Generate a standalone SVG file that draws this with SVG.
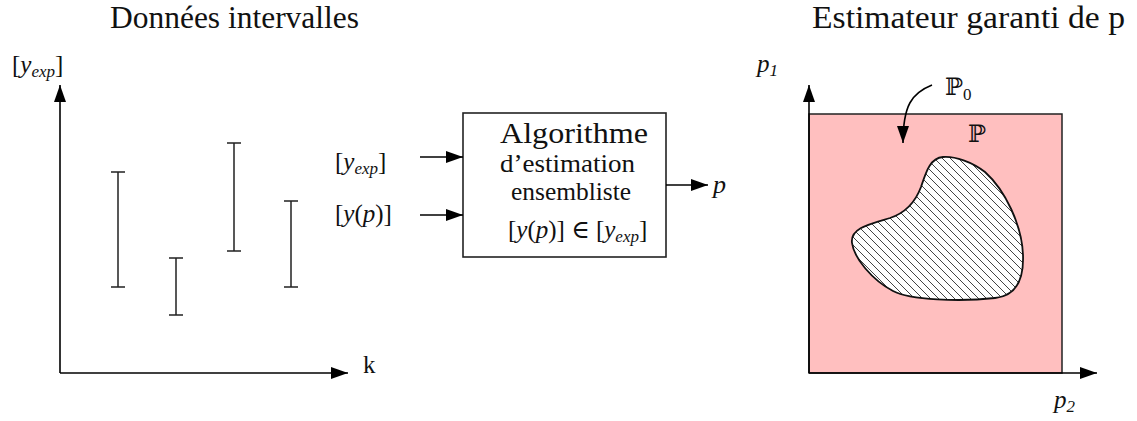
<svg xmlns="http://www.w3.org/2000/svg" width="1137" height="421" viewBox="0 0 1137 421">
<style>
.t{font-family:'Liberation Serif','DejaVu Serif','Times New Roman',serif;fill:#111}
.m{font-family:'Liberation Serif','DejaVu Serif','Times New Roman',serif;font-style:italic;fill:#111}
.bb{font-family:'DejaVu Serif','DejaVu Sans',serif;fill:#111}
.ax{stroke:#000;stroke-width:1.6;fill:none}
.bar{stroke:#222;stroke-width:1.5;fill:none}
</style>
<defs>
<marker id="ah" markerUnits="userSpaceOnUse" markerWidth="18" markerHeight="13" refX="17" refY="6" orient="auto">
<path d="M0,0 L17,6 L0,12 z" fill="#000"/>
</marker>
<pattern id="hatch" patternUnits="userSpaceOnUse" width="8" height="8">
<rect width="8" height="8" fill="#fff"/>
<path d="M-2,-2 L10,10 M-2,6 L2,10 M6,-2 L10,2" stroke="#444" stroke-width="1"/>
</pattern>
</defs>

<g id="titles">
<text class="t" font-family="Liberation Serif, DejaVu Serif, serif" x="110" y="28" font-size="32" textLength="249" lengthAdjust="spacingAndGlyphs">Données intervalles</text>
<text class="t" font-family="Liberation Serif, DejaVu Serif, serif" x="812" y="28" font-size="31" textLength="313" lengthAdjust="spacingAndGlyphs">Estimateur garanti de p</text>
</g>

<g id="left-plot">
<text class="t" x="12" y="73" font-size="25">[<tspan class="m">y</tspan><tspan class="m" font-size="17" dy="4">exp</tspan><tspan dy="-4">]</tspan></text>
<text class="t" x="363" y="373" font-size="25">k</text>
<g id="intervals">
<path class="bar" d="M118,172 V287 M111,172 H125 M111,287 H125"/>
<path class="bar" d="M176,258 V315 M169,258 H183 M169,315 H183"/>
<path class="bar" d="M234,143 V251 M227,143 H241 M227,251 H241"/>
<path class="bar" d="M291,201 V287 M284,201 H298 M284,287 H298"/>
</g>
</g>

<g id="algo-box">
<rect x="463" y="113" width="203" height="144" fill="#fff" stroke="#222" stroke-width="1.6"/>
<text class="t" x="500" y="143" font-size="30" textLength="148" lengthAdjust="spacingAndGlyphs">Algorithme</text>
<text class="t" x="500" y="172" font-size="26" textLength="135" lengthAdjust="spacingAndGlyphs">d’estimation</text>
<text class="t" x="511" y="200" font-size="25" textLength="120" lengthAdjust="spacingAndGlyphs">ensembliste</text>
<text class="t" x="508" y="238" font-size="25">[<tspan class="m">y</tspan>(<tspan class="m">p</tspan>)] ∈ [<tspan class="m">y</tspan><tspan class="m" font-size="17" dy="4">exp</tspan><tspan dy="-4">]</tspan></text>
</g>

<g id="inputs">
<text class="t" x="335" y="170" font-size="25">[<tspan class="m">y</tspan><tspan class="m" font-size="17" dy="4">exp</tspan><tspan dy="-4">]</tspan></text>
<text class="t" x="335" y="222" font-size="25">[<tspan class="m">y</tspan>(<tspan class="m">p</tspan>)]</text>
</g>

<g id="output">
<text class="m" x="713" y="193" font-size="26">p</text>
</g>

<g id="right-plot">
<rect x="809" y="114" width="253" height="259" fill="#ffbfbf" stroke="#222" stroke-width="1.5"/>
<path d="M943,157 C930,158 926,172 921,187 C915,203 905,213 890,218 C870,224 850,228 852,243 C854,258 872,280 893,291 C910,300 960,302 995,298 C1015,296 1024,282 1023,255 C1022,225 1005,190 985,172 C972,162 955,156 943,157 Z" fill="url(#hatch)" stroke="#111" stroke-width="1.8"/>
<text class="m" x="757" y="72" font-size="25">p<tspan class="t" font-size="17" dy="4">1</tspan></text>
<text class="m" x="1054" y="408" font-size="25">p<tspan class="t" font-size="17" dy="4">2</tspan></text>
<text class="bb" x="945" y="95" font-size="24">ℙ<tspan class="t" font-size="17" dy="5">0</tspan></text>
<text class="bb" x="968" y="142" font-size="24">ℙ</text>
</g>

<g id="connectors">
<path class="ax" d="M60,373 V85" marker-end="url(#ah)"/>
<path class="ax" d="M60,373 H348" marker-end="url(#ah)"/>
<path class="ax" d="M420,157 H463" marker-end="url(#ah)"/>
<path class="ax" d="M420,215 H463" marker-end="url(#ah)"/>
<path class="ax" d="M666,185 H708" marker-end="url(#ah)"/>
<path class="ax" d="M809,373 V85" marker-end="url(#ah)"/>
<path class="ax" d="M809,373 H1097" marker-end="url(#ah)"/>
<path class="ax" d="M932,85 C912,93 903,105 903,143" marker-end="url(#ah)"/>
</g>
</svg>
